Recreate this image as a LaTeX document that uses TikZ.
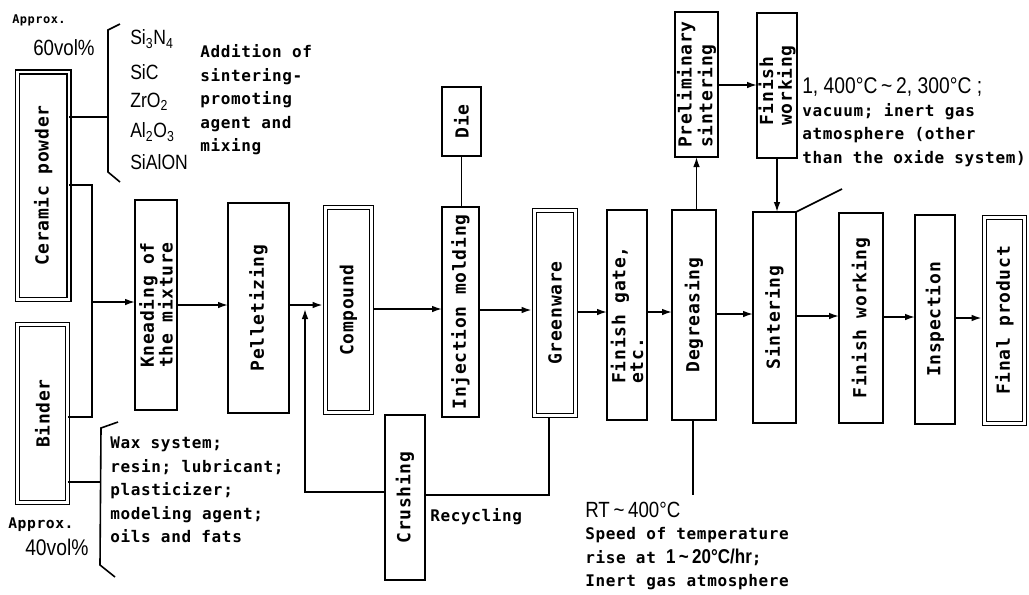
\documentclass[tikz,border=0pt]{standalone}
\usepackage{fontspec}
\usetikzlibrary{arrows.meta}
\newfontfamily\mono[LetterSpace=4]{DejaVu Sans Mono}
\newfontfamily\cond[FakeStretch=0.85]{Liberation Sans}
\tikzset{
 bx/.style={draw, line width=1.7pt, inner sep=0pt, outer sep=0pt},
 dbx/.style={draw, double, double distance=1.8pt, line width=1.3pt, inner sep=0pt, outer sep=0pt},
 btxt/.style={rotate=90, font=\mono\bfseries\fontsize{13.5}{14}\selectfont, inner sep=0pt, align=center},
 ttxt/.style={font=\mono\bfseries\fontsize{12}{17.6}\selectfont, inner sep=0pt, align=left, anchor=west},
 ctxt/.style={font=\cond\fontsize{15.5}{19}\selectfont, inner sep=0pt, anchor=west},
 con/.style={line width=1.2pt},
 arr/.style={con, -{Latex[length=7.5pt,width=5pt]}},
}
\newcommand\mkbox[6]{\node[#6, minimum width={(#4-#2)*0.75pt}, minimum height={(#5-#3)*0.75pt}] (#1) at ({(#2+#4)/2},{(#3+#5)/2}) {};}
\begin{document}
\begin{tikzpicture}[x=0.75pt,y=-0.75pt]
\useasboundingbox (0,0) rectangle (1029,594);
% boxes
\mkbox{cer}{17.5}{72}{69}{299.5}{dbx}
\node[btxt] (cert) at (cer) {Ceramic powder};
\mkbox{bind}{17.5}{324.5}{67.5}{502.5}{dbx}
\node[btxt] (bindt) at (bind) {Binder};
\mkbox{knead}{135}{200}{177}{410}{bx}
\node[btxt] (kneadt) at (knead) {Kneading of\\the mixture};
\mkbox{pell}{228}{203}{289}{413}{bx}
\node[btxt] (pellt) at (pell) {Pelletizing};
\mkbox{comp}{325.5}{207.5}{371.5}{412.5}{dbx}
\node[btxt] (compt) at (comp) {Compound};
\mkbox{inj}{442}{207}{479}{417}{bx}
\node[btxt] (injt) at (inj) {Injection molding};
\mkbox{die}{442}{87}{481}{156}{bx}
\node[btxt] (diet) at (die) {Die};
\mkbox{green}{534.5}{210.5}{575.5}{415.5}{dbx}
\node[btxt] (greent) at (green) {Greenware};
\mkbox{fgate}{607}{210}{647}{420}{bx}
\node[btxt, align=left, font=\mono\bfseries\fontsize{13.5}{12}\selectfont] (fgatet) at (fgate) {Finish gate,\\ etc.};
\mkbox{degr}{672}{210}{716}{420}{bx}
\node[btxt] (degrt) at (degr) {Degreasing};
\mkbox{sint}{753}{212}{796}{423}{bx}
\node[btxt] (sintt) at (sint) {Sintering};
\mkbox{fwork}{839}{213}{883}{423}{bx}
\node[btxt] (fworkt) at (fwork) {Finish working};
\mkbox{insp}{915}{215}{955}{424}{bx}
\node[btxt] (inspt) at (insp) {Inspection};
\mkbox{final}{984.5}{217.5}{1024.5}{423.5}{dbx}
\node[btxt] (finalt) at (final) {Final product};
\mkbox{prelim}{675}{12}{718}{157}{bx}
\node[btxt, align=left, font=\mono\bfseries\fontsize{13.5}{15.5}\selectfont] (prelimt) at (prelim) {Preliminary\\sintering};
\mkbox{fwork2}{757}{13}{797}{158}{bx}
\node[btxt, align=left] (fwork2t) at (fwork2) {Finish\\working};
\mkbox{crush}{385}{415}{425}{580}{bx}
\node[btxt] (crusht) at (crush) {Crushing};
% input junction
\coordinate (jt) at (92,185);
\coordinate (jb) at (92,417);
\coordinate (jm) at (92,302);
\draw[con] (cer.east |- jt) -- (jt) -- (jb) -- (bind.east |- jb);
\draw[arr] (jm) -- (knead.west |- jm);
% brackets
\coordinate (brk1) at (108,117);
\draw[con] (cer.east |- brk1) -- (brk1);
\draw[con] (120,24) -- (108,30) -- (108,172) -- (120,182);
\coordinate (brk2) at (100,482);
\draw[con] (bind.east |- brk2) -- (brk2);
\draw[con] (118,422) -- (101,428) -- (100,565) -- (115,577);
% main flow
\coordinate (rj) at (305,305);
\draw[arr] (knead.east |- rj) -- (pell.west |- rj);
\draw[arr, shorten >=2.2pt] (pell.east |- rj) -- (comp.west |- rj);
\draw[arr, shorten <=2.2pt] (comp.east |- 0,309) -- (inj.west |- 0,309);
\draw[arr, shorten >=2.2pt] (inj.east |- 0,310) -- (green.west |- 0,310);
\draw[arr, shorten <=2.2pt] (green.east |- 0,312) -- (fgate.west |- 0,312);
\draw[arr] (fgate.east |- 0,312) -- (degr.west |- 0,312);
\draw[arr] (degr.east |- 0,314) -- (sint.west |- 0,314);
\draw[arr] (sint.east |- 0,316) -- (fwork.west |- 0,316);
\draw[arr] (fwork.east |- 0,317) -- (insp.west |- 0,317);
\draw[arr, shorten >=2.2pt] (insp.east |- 0,318) -- (final.west |- 0,318);
% die
\draw[con] (die.south) -- (die.south |- inj.north);
% recycling
\draw[con, shorten <=2.2pt] ([xshift=-4.5pt]green.south) |- (crush.east |- 0,495);
\draw[arr] (crush.west |- 0,492) -| ([yshift=-3pt]rj);
% sintering loop
\draw[arr] (degr.north -| prelim.south) -- (prelim.south);
\draw[arr] (prelim.east |- 0,85) -- (fwork2.west |- 0,85);
\draw[arr] (fwork2.south) -- (fwork2.south |- sint.north);
\coordinate (sl) at (842,189);
\draw[con] (sint.north east) -- (sl);
\coordinate (dl) at (693,495);
\draw[con] (degr.south -| dl) -- (dl);
% texts
\node[ttxt, font=\mono\bfseries\fontsize{9}{10}\selectfont] (ap1) at (12,20) {Approx.};
\node[ctxt, font=\cond\fontsize{16.5}{19}\selectfont] (v60) at (33,48) {60vol\%};
\node[ctxt] (c1) at (130,39) {Si\textsubscript{3}N\textsubscript{4}};
\node[ctxt] (c2) at (130,72) {SiC};
\node[ctxt] (c3) at (130,102) {ZrO\textsubscript{2}};
\node[ctxt] (c4) at (130,132) {Al\textsubscript{2}O\textsubscript{3}};
\node[ctxt] (c5) at (130,162) {SiAlON};
\node[ttxt] (add) at (200,100) {Addition of\\sintering-\\promoting\\agent and\\mixing};
\node[ttxt] (wax) at (110,490) {Wax system;\\resin; lubricant;\\plasticizer;\\modeling agent;\\oils and fats};
\node[ttxt, font=\mono\bfseries\fontsize{11}{12}\selectfont] (ap2) at (8,525) {Approx.};
\node[ctxt, font=\cond\fontsize{17}{19}\selectfont] (v40) at (25,547) {40vol\%};
\node[ttxt] (rec) at (430,517) {Recycling};
\node[ctxt, font=\cond\fontsize{16.5}{19}\selectfont] (rt) at (585,510) {RT\,\textasciitilde\,400°C};
\node[ttxt] (spd) at (585,559) {Speed of temperature\\rise at {\cond\fontsize{15}{17}\selectfont 1\,\textasciitilde\,20°C/hr};\\Inert gas atmosphere};
\node[ctxt, font=\cond\fontsize{17}{19}\selectfont] (temp) at (802,87) {1, 400°C\,\textasciitilde\,2, 300°C ;};
\node[ttxt] (vac) at (802,135) {vacuum; inert gas\\atmosphere (other\\than the oxide system)};
\end{tikzpicture}
\end{document}
